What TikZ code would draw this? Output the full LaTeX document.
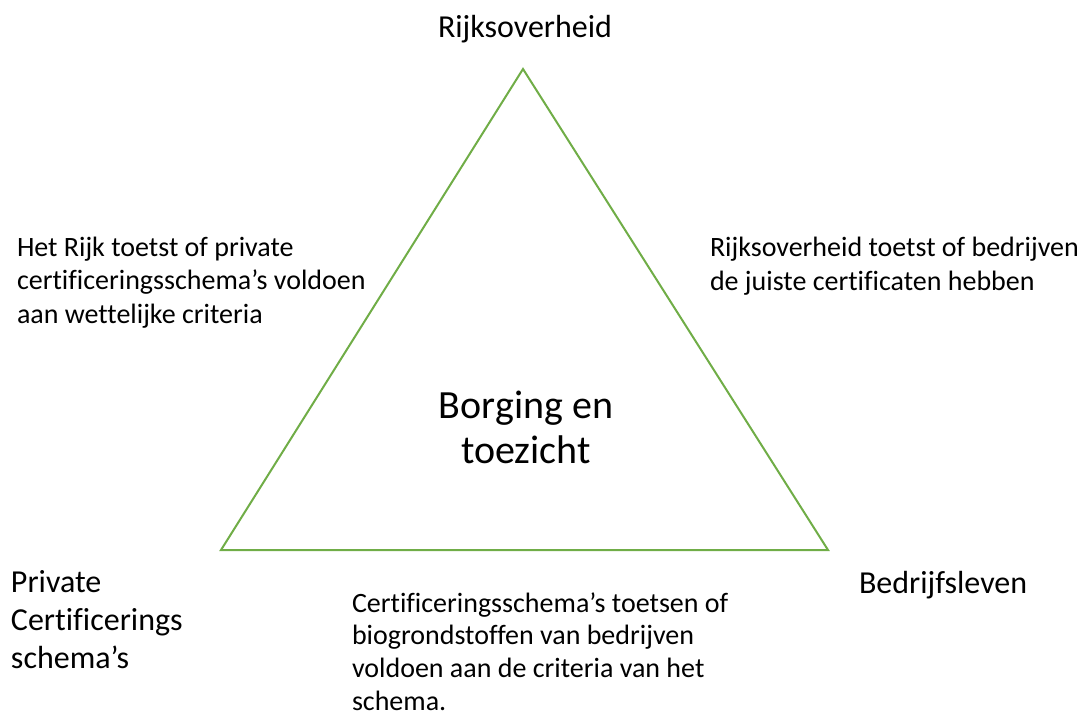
\documentclass[tikz,border=0pt]{standalone}
\usepackage{fontspec}
\setmainfont{Carlito}[Ligatures=NoCommon]
\definecolor{tri}{RGB}{112,173,71}
\begin{document}
\begin{tikzpicture}[x=0.75pt,y=-0.75pt,
  txt/.style={inner sep=0pt,outer sep=0pt,align=left,font=\fontsize{21}{25}\selectfont},
  big/.style={inner sep=0pt,outer sep=0pt,align=left,font=\fontsize{24}{28.5}\selectfont}]
\useasboundingbox (0,0) rectangle (1078,717);
\coordinate (A) at (523,69);
\coordinate (B) at (221,550);
\coordinate (C) at (828,550);
\draw[tri,line width=1.5pt,line join=miter] (A) -- (B) -- (C) -- cycle;
\node[big,anchor=base] (top) at (525,38) {Rijksoverheid};
\node[txt,anchor=base west] (l) at (17,323) {Het Rijk toetst of private\\certificeringsschema’s voldoen\\aan wettelijke criteria};
\node[txt,anchor=base west] (r) at (710,290) {Rijksoverheid toetst of bedrijven\\de juiste certificaten hebben};
\node[inner sep=0pt,align=center,font=\fontsize{30}{33.75}\selectfont,anchor=base] (c) at (526,463) {Borging en\\toezicht};
\node[big,anchor=base west] (p) at (11,668) {Private\\Certificerings\\schema’s};
\node[big,anchor=base west] (b) at (859,593) {Bedrijfsleven};
\node[txt,anchor=base west,font=\fontsize{21}{24.5}\selectfont] (bt) at (352,710) {Certificeringsschema’s toetsen of\\biogrondstoffen van bedrijven\\voldoen aan de criteria van het\\schema.};
\end{tikzpicture}
\end{document}
